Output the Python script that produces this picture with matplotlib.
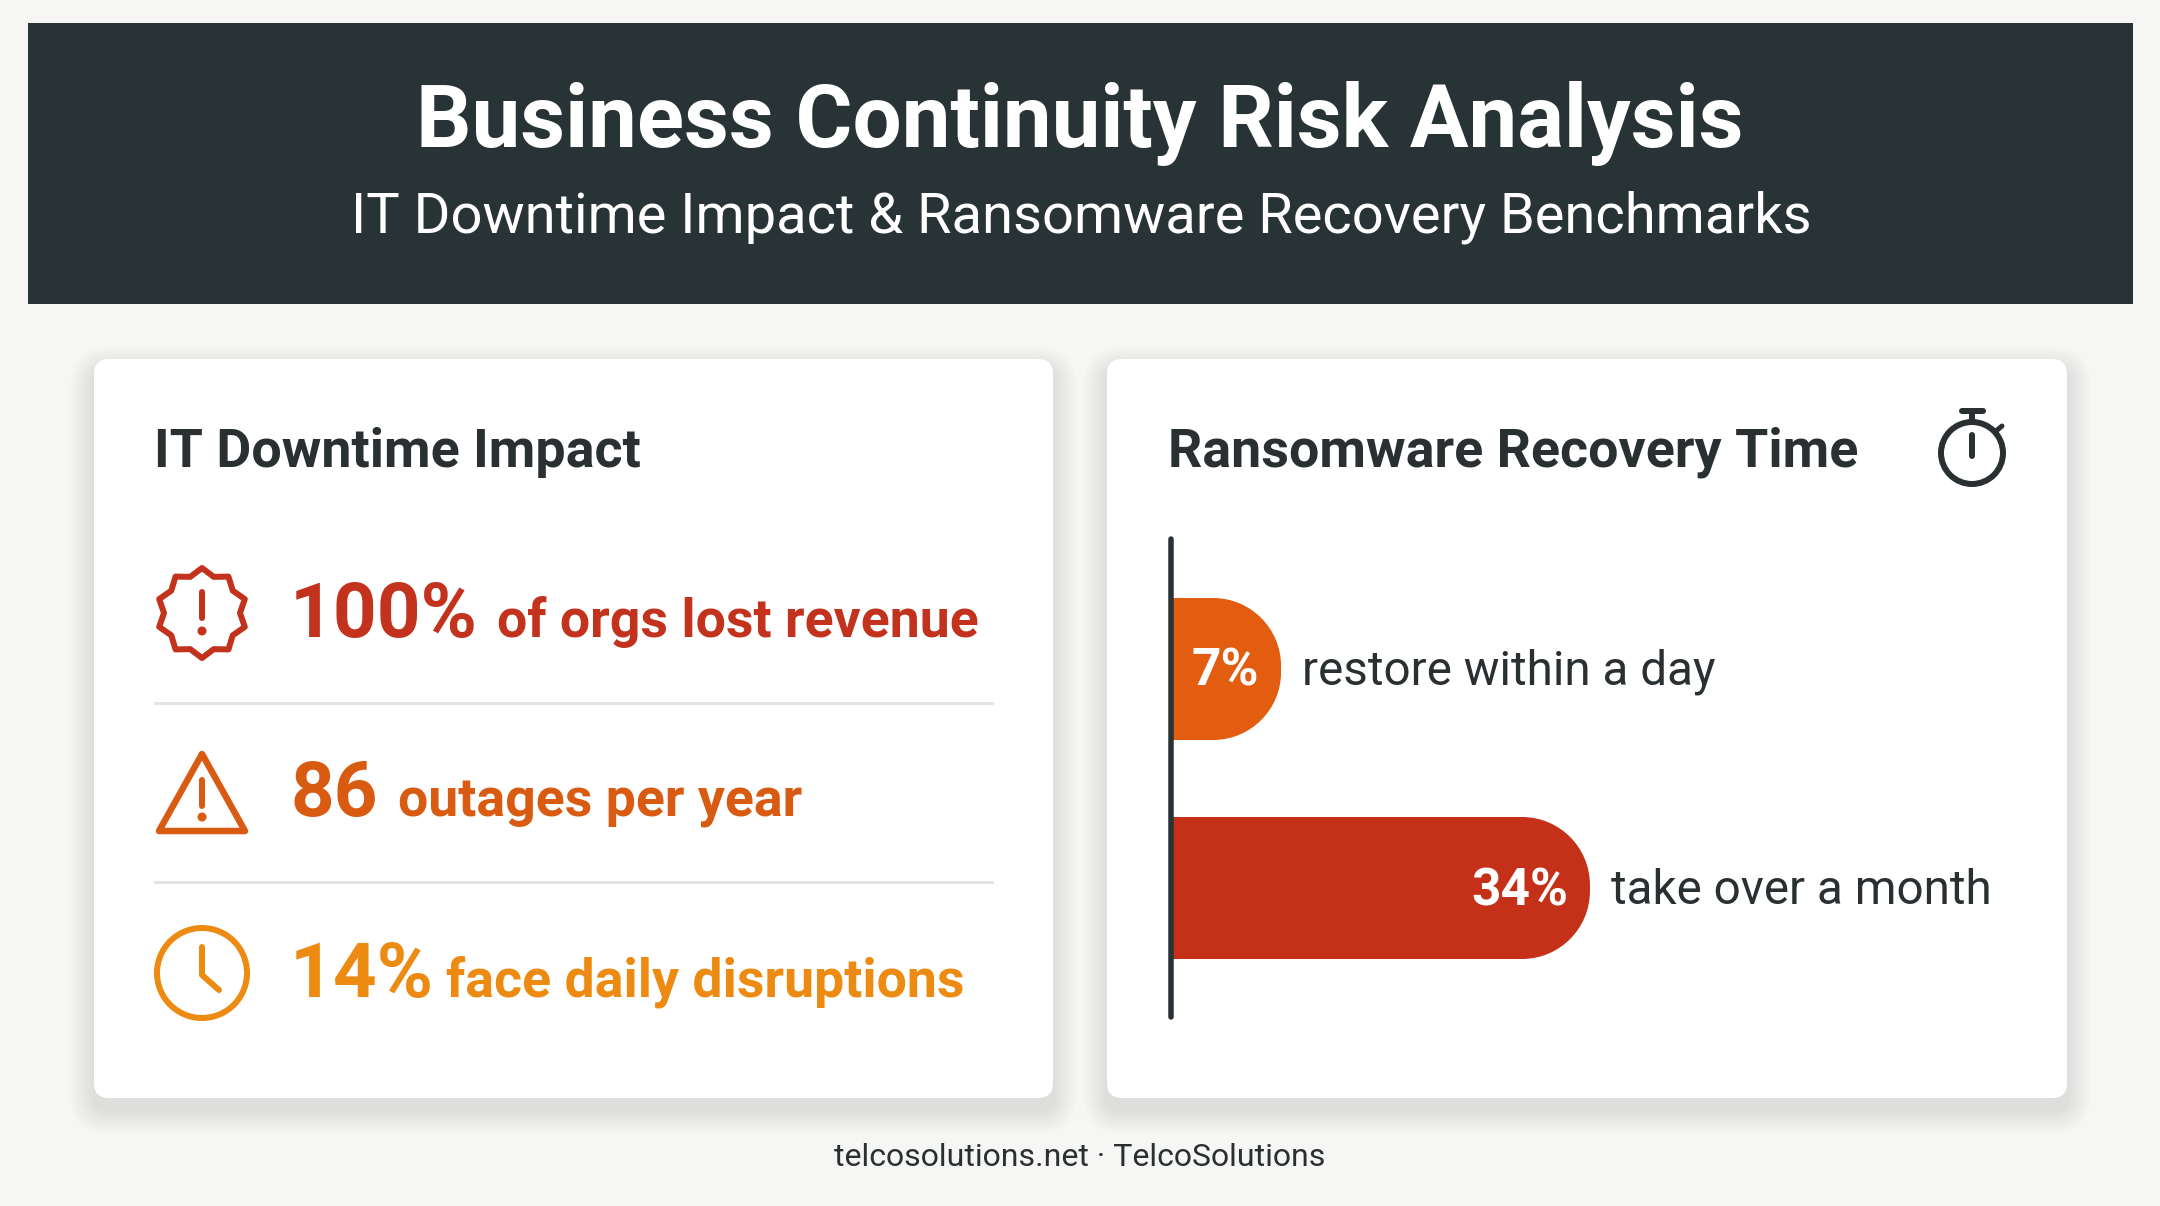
import numpy as np
import matplotlib
matplotlib.use('Agg')
import matplotlib.pyplot as plt
from matplotlib.patches import FancyBboxPatch, Rectangle, Circle, Polygon
from matplotlib.path import Path

plt.rcParams['font.family'] = ['Roboto', 'DejaVu Sans']

title = 'Business Continuity Risk Analysis'
subtitle = 'IT Downtime Impact & Ransomware Recovery Benchmarks'
footer = 'telcosolutions.net · TelcoSolutions'

impact_title = 'IT Downtime Impact'
impact_values = ['100%', '86', '14%']
impact_labels = ['of orgs lost revenue', 'outages per year', 'face daily disruptions']

recovery_title = 'Ransomware Recovery Time'
recovery_values = np.array([7, 34])
recovery_labels = ['restore within a day', 'take over a month']

DARK = '#283336'
TEXT = '#2A3032'
BG = '#F6F6F4'
impact_colors = ['#C2321C', '#D95B12', '#EC8A12']
recovery_colors = ['#E25D10', '#C53018']
# x pixel where the small label of each row starts, baseline of each row
impact_label_x = [497, 398, 446]
impact_base = [637, 816, 997]
icon_y = [613, 795, 973]

fig = plt.figure(figsize=(21.6, 12.06), dpi=100, facecolor=BG)
ax = fig.add_axes([0, 0, 1, 1])
ax.set_xlim(0, 2160)
ax.set_ylim(1206, 0)
ax.axis('off')


def lw(px):
    return px * 0.72


def card(x0, y0, x1, y1):
    # soft shadow first, then the white card
    for i in range(12):
        grow = 24 - i * 2
        ax.add_patch(FancyBboxPatch((x0 - grow + 15, y0 - grow + 27), x1 - x0 + 2 * grow - 30, y1 - y0 + 2 * grow - 30,
                                    boxstyle='round,pad=15,rounding_size=%d' % (15 + grow),
                                    fc='#000000', ec='none', alpha=0.006, zorder=1))
    ax.add_patch(FancyBboxPatch((x0 + 15, y0 + 15), x1 - x0 - 30, y1 - y0 - 30,
                                boxstyle='round,pad=15,rounding_size=15', fc='white', ec='none', zorder=2))


# header
ax.add_patch(Rectangle((28, 23), 2105, 281, fc=DARK, ec='none', zorder=1))
ax.text(1080, 124, title, color='white', fontsize=62.7, fontweight='bold', ha='center', va='center', zorder=3)
ax.text(1081, 217, subtitle, color='white', fontsize=40.4, ha='center', va='center', zorder=3)

card(94, 359, 1053, 1098)
card(1107, 359, 2067, 1098)

ax.text(154, 452, impact_title, color=TEXT, fontsize=38.8, fontweight='bold', va='center', zorder=3)
ax.text(1168, 452, recovery_title, color=TEXT, fontsize=38.8, fontweight='bold', va='center', zorder=3)

# impact rows
for i in range(3):
    ax.text(290, impact_base[i], impact_values[i], color=impact_colors[i], fontsize=55, fontweight='bold',
            va='baseline', zorder=3)
    ax.text(impact_label_x[i], impact_base[i], impact_labels[i], color=impact_colors[i], fontsize=38.6,
            fontweight='bold', va='baseline', zorder=3)

for y in [703, 882]:
    ax.plot([155, 992], [y, y], color='#E3E4E5', lw=lw(3), zorder=3)

# badge icon
n = 10
ang = np.arange(2 * n) * np.pi / n - np.pi / 2
rad = np.where(np.arange(2 * n) % 2 == 0, 45, 38)
ax.add_patch(Polygon(np.c_[202 + rad * np.cos(ang), icon_y[0] + rad * np.sin(ang)], closed=True, fc='none',
                     ec=impact_colors[0], lw=lw(6), joinstyle='round', zorder=3))
ax.plot([202, 202], [592, 618], color=impact_colors[0], lw=lw(6), solid_capstyle='round', zorder=3)
ax.add_patch(Circle((202, 631), 4.5, fc=impact_colors[0], ec='none', zorder=3))

# warning icon
ax.add_patch(Polygon([(202, 754), (245, 831), (159, 831)], closed=True, fc='none', ec=impact_colors[1],
                     lw=lw(6.5), joinstyle='round', zorder=3))
ax.plot([202, 202], [780, 806], color=impact_colors[1], lw=lw(6), solid_capstyle='round', zorder=3)
ax.add_patch(Circle((202, 817), 4.5, fc=impact_colors[1], ec='none', zorder=3))

# clock icon
ax.add_patch(Circle((202, icon_y[2]), 45, fc='none', ec=impact_colors[2], lw=lw(6), zorder=3))
ax.plot([202, 202, 219], [947, 975, 990], color=impact_colors[2], lw=lw(6), solid_capstyle='round',
        solid_joinstyle='round', zorder=3)

# stopwatch icon
ax.add_patch(Circle((1972, 453), 31, fc='none', ec=TEXT, lw=lw(6), zorder=3))
ax.plot([1962, 1983], [411, 411], color=TEXT, lw=lw(6), solid_capstyle='round', zorder=3)
ax.plot([1972, 1972], [411, 422], color=TEXT, lw=lw(6), zorder=3)
ax.plot([1996, 2002], [431, 426], color=TEXT, lw=lw(5), solid_capstyle='round', zorder=3)
ax.plot([1972, 1972], [435, 456], color=TEXT, lw=lw(6), solid_capstyle='round', zorder=3)

ax.text(1080, 1158, footer, color=TEXT, fontsize=23, ha='center', va='center', zorder=3)

# recovery bars, on their own axes
bx0, bx1, by0, by1 = 1171, 2040, 539, 1017
px_per_pct = 11.44
px_per_row = 219
zero_px = 1201
bax = fig.add_axes([bx0 / 2160, 1 - by1 / 1206, (bx1 - bx0) / 2160, (by1 - by0) / 1206], zorder=5)
bax.patch.set_alpha(0)
x_left = (bx0 - zero_px) / px_per_pct
bax.set_xlim(x_left, (bx1 - zero_px) / px_per_pct)
bax.set_ylim((by1 - 669) / px_per_row, (by0 - 669) / px_per_row)
for s in ['top', 'right', 'bottom']:
    bax.spines[s].set_visible(False)
bax.spines['left'].set_color(DARK)
bax.spines['left'].set_linewidth(lw(5.5))
bax.spines['left'].set_capstyle('round')
bax.set_xticks([])
bax.set_yticks([])

rows = np.arange(len(recovery_values))
bar_h = 142 / px_per_row
bars = bax.barh(rows, recovery_values - x_left, left=x_left, height=bar_h, color=recovery_colors, zorder=1)
rx = 68 / px_per_pct
ry = 68 / px_per_row
k = 0.5523
text_dy = 3 / px_per_row
for bar, v, y, name in zip(bars, recovery_values, rows, recovery_labels):
    t, b = y - bar_h / 2, y + bar_h / 2
    verts = [(x_left - 1, t), (v - rx, t),
             (v - rx + k * rx, t), (v, t + ry - k * ry), (v, t + ry),
             (v, b - ry),
             (v, b - ry + k * ry), (v - rx + k * rx, b), (v - rx, b),
             (x_left - 1, b), (x_left - 1, t)]
    codes = [Path.MOVETO, Path.LINETO, Path.CURVE4, Path.CURVE4, Path.CURVE4, Path.LINETO,
             Path.CURVE4, Path.CURVE4, Path.CURVE4, Path.LINETO, Path.CLOSEPOLY]
    bar.set_clip_path(Path(verts, codes), bax.transData)
    bax.text(v - 22 / px_per_pct, y + text_dy, '%d%%' % v, color='white', fontsize=37, fontweight='bold', ha='right',
             va='center', zorder=3)
    bax.text(v + 21 / px_per_pct, y + text_dy, name, color=TEXT, fontsize=34.3, va='center', zorder=3)

fig.savefig('out.png', dpi=100, facecolor=BG)
